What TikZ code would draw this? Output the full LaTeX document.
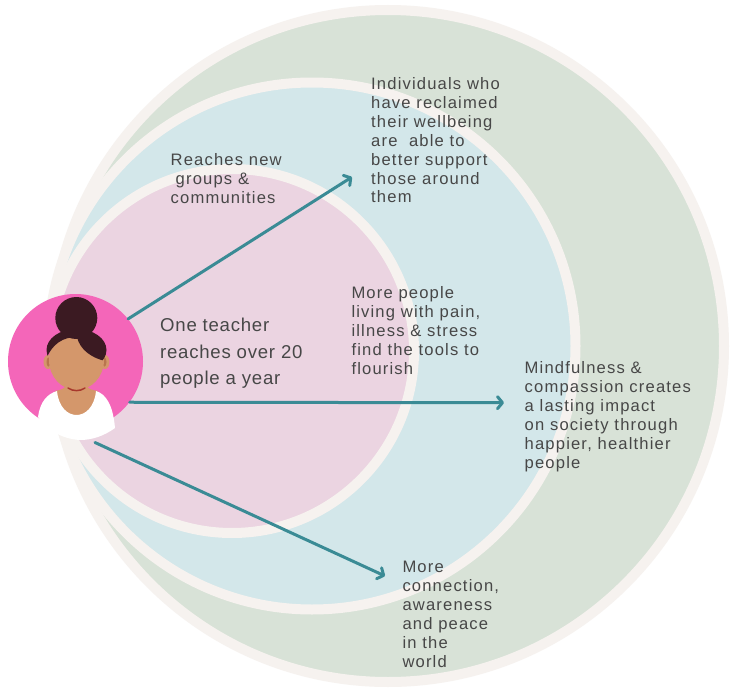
\documentclass[tikz,border=0pt]{standalone}
\usepackage{fontspec}
\setmainfont{Liberation Sans}
\newfontfamily\lblfont[LetterSpace=7]{Liberation Sans}
\newfontfamily\bigfont[LetterSpace=4]{Liberation Sans}
\usetikzlibrary{arrows.meta}
\definecolor{ringbeige}{HTML}{F6F2EF}
\definecolor{ringgreen}{HTML}{D8E2D7}
\definecolor{ringblue}{HTML}{D3E7EA}
\definecolor{ringpink}{HTML}{EBD4E1}
\definecolor{arrowteal}{HTML}{3A8B95}
\definecolor{txtgray}{HTML}{474747}
\definecolor{avpink}{HTML}{F466B9}
\definecolor{skin}{HTML}{D4976B}
\definecolor{skindark}{HTML}{B9754F}
\definecolor{hair}{HTML}{3B1A22}
\definecolor{chinline}{HTML}{A8382C}
\newcommand{\firstl}{\rule{0pt}{13pt}}
\newcommand{\firstbig}{\rule{0pt}{15pt}}
\tikzset{
  ringline/.style={draw=ringbeige, line width=10pt},
  lbl/.style={anchor=north west, inner sep=0pt, align=left, text=txtgray,
    font=\lblfont\fontsize{16.6}{18.9}\selectfont},
  biglbl/.style={anchor=north west, inner sep=0pt, align=left, text=txtgray,
    font=\bigfont\fontsize{18.6}{26.5}\selectfont},
  flow/.style={draw=arrowteal, line width=3pt, line cap=round,
    -{Straight Barb[length=5pt,width=12pt,round]}}
}
\begin{document}
\begin{tikzpicture}[x=1pt,y=-1pt]
\path[use as bounding box] (0,0) rectangle (732,688);
\fill[white] (0,0) rectangle (732,688);

% rings
\draw[ringline, fill=ringgreen] (388,346) circle[radius=336pt];
\draw[ringline, fill=ringblue] (312,346) circle[radius=263.5pt];
\draw[ringline, fill=ringpink] (232,351) circle[radius=182pt];

% texts
\node[lbl] (ind) at (371,76.3) {\firstl Individuals who\\have reclaimed\\their wellbeing\\are~~able to\\better support\\those around\\them};
\node[lbl] (reach) at (170.5,152.7) {\firstl Reaches new\\\hspace*{5pt}groups \&\\communities};
\node[biglbl] (one) at (160,316.7) {\firstbig One teacher\\reaches over 20\\people a year};
\node[lbl] (morepeople) at (351.3,285.3) {\firstl More people\\living with pain,\\illness \& stress\\find the tools to\\flourish};
\node[lbl] (mind) at (524.5,360.3) {\firstl Mindfulness \&\\compassion creates\\a lasting impact\\on society through\\happier, healthier\\people};
\node[lbl] (moreconn) at (402.3,559.7) {\firstl More\\connection,\\awareness\\and peace\\in the\\world};

% avatar
\node[circle, fill=avpink, minimum size=135pt, inner sep=0pt] (avatar) at (75.5,361.5) {};
% neck skin
\fill[skin] (66,375) -- (66,385) .. controls (65,389) and (60,390) .. (55,391) -- (55,418) -- (98,418) -- (98,391) .. controls (92,390) and (87,389) .. (87,385) -- (87,375) -- cycle;
% shirt
\fill[white] (38,417) .. controls (40,402) and (47,394) .. (57,391)
  .. controls (60,423) and (93,423) .. (96,391)
  .. controls (106,394) and (113,405) .. (115,428)
  .. controls (104,436) and (92,440) .. (80,440)
  .. controls (62,439) and (47,430) .. (38,417) -- cycle;
% ears
\fill[skin] (48,362) ellipse[x radius=4.5pt, y radius=7pt];
\fill[skin] (105,362) ellipse[x radius=4.5pt, y radius=7pt];
\fill[skindark] (48.5,362) ellipse[x radius=2pt, y radius=4.5pt];
\fill[skindark] (104.5,362) ellipse[x radius=2pt, y radius=4.5pt];
% face
\fill[skin] (76.5,360) ellipse[x radius=27.5pt, y radius=30pt];
% hair
\begin{scope}
  \clip (76.5,350) ellipse[x radius=30pt, y radius=21pt];
  \fill[hair] (46,360) .. controls (52,343) and (64,337) .. (77,337)
    .. controls (80,350) and (92,359) .. (110,362) -- (110,320) -- (40,320) -- cycle;
\end{scope}
\fill[hair] (76.3,318) circle[radius=21pt];
% chin line
\draw[chinline, line width=1.5pt, line cap=round] (68,388) .. controls (73,391.5) and (80,391.5) .. (85,388);

% arrow ends
\coordinate (s3) at (95,442.5);
\coordinate (e1) at (352,177);
\coordinate (e2) at (504,402.7);
\coordinate (e3) at (385,576);

\draw[flow] (avatar.39) -- (e1);
\draw[flow] (avatar.-37.6) -- (e2);
\draw[flow] (s3) -- (e3);
\end{tikzpicture}
\end{document}
